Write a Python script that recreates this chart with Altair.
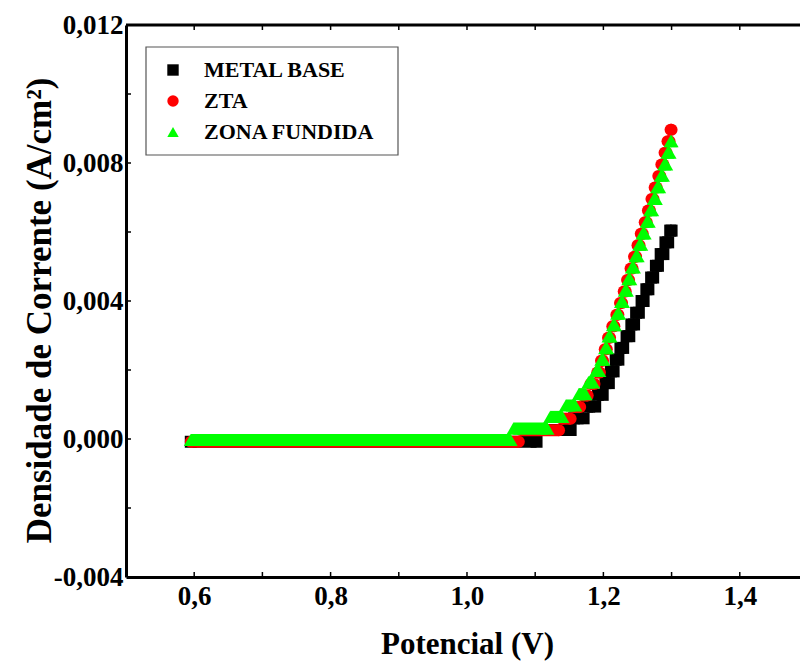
import altair as alt
import pandas as pd

# ---------------- data ----------------
# Current is recorded in discrete levels; each level is a run of samples
# between a start potential and an end potential (V), current in A/cm2.
series = ["METAL BASE", "ZTA", "ZONA FUNDIDA"]
colors = ["#000000", "#ff0000", "#00ff00"]
shapes = ["square", "circle", "triangle-up"]

mb_e_ini = [0.595, 1.106, 1.157, 1.176, 1.192, 1.203, 1.211, 1.218, 1.225, 1.234,
            1.241, 1.248, 1.256, 1.263, 1.270, 1.277, 1.284, 1.291, 1.298]
mb_e_fim = [1.102, 1.152, 1.171, 1.188, 1.199, 1.208, 1.215, 1.222, 1.229, 1.238,
            1.245, 1.252, 1.259, 1.266, 1.273, 1.280, 1.288, 1.295, 1.300]
mb_j = [-0.00008, 0.00026, 0.00060, 0.00094, 0.00128, 0.00162, 0.00196, 0.00230,
        0.00264, 0.00298, 0.00332, 0.00366, 0.00400, 0.00434, 0.00468, 0.00502,
        0.00536, 0.00570, 0.00604]

zta_e_ini = [0.595, 1.080, 1.139, 1.156, 1.170, 1.181, 1.191, 1.1965, 1.202, 1.2068,
             1.2131, 1.219, 1.2244, 1.2298, 1.2347, 1.2398, 1.245, 1.250, 1.2548,
             1.2606, 1.2653, 1.2705, 1.2752, 1.2805, 1.285, 1.2897, 1.294, 1.2985]
zta_e_fim = [1.076, 1.135, 1.152, 1.166, 1.177, 1.187, 1.195, 1.1995, 1.205, 1.2098,
             1.2161, 1.222, 1.2274, 1.2328, 1.2377, 1.2428, 1.248, 1.253, 1.2578,
             1.2636, 1.2683, 1.2735, 1.2782, 1.2835, 1.288, 1.2927, 1.297, 1.300]
zta_j = [-0.00008, 0.000255, 0.00059, 0.000925, 0.00126, 0.001595, 0.00193, 0.002265,
         0.00260, 0.002935, 0.00327, 0.003605, 0.00394, 0.004275, 0.00461, 0.004945,
         0.00528, 0.005615, 0.00595, 0.006285, 0.00662, 0.006955, 0.00729, 0.007625,
         0.00796, 0.008295, 0.00863, 0.008965]

zf_e_ini = [0.595, 1.068, 1.122, 1.145, 1.164, 1.178, 1.189, 1.197, 1.2025, 1.2075,
            1.214, 1.2201, 1.2258, 1.2314, 1.2365, 1.2418, 1.2473, 1.2525, 1.2575,
            1.2635, 1.2685, 1.2739, 1.2788, 1.2843, 1.2891, 1.294, 1.2985]
zf_e_fim = [1.064, 1.118, 1.140, 1.159, 1.174, 1.185, 1.194, 1.200, 1.2055, 1.2105,
            1.217, 1.2231, 1.2288, 1.2344, 1.2395, 1.2448, 1.2503, 1.2555, 1.2605,
            1.2665, 1.2715, 1.2769, 1.2818, 1.2873, 1.2921, 1.297, 1.300]
zf_j = [-0.00003, 0.00030, 0.00064, 0.00097, 0.00130, 0.00164, 0.00197, 0.00230,
        0.00263, 0.00297, 0.00330, 0.00363, 0.00397, 0.00430, 0.00463, 0.00497,
        0.00530, 0.00563, 0.00596, 0.00630, 0.00663, 0.00696, 0.00730, 0.00763,
        0.00796, 0.00830, 0.00863]

x_labels = [0.6, 0.8, 1.0, 1.2, 1.4]
x_ticks = [0.6, 0.7, 0.8, 0.9, 1.0, 1.1, 1.2, 1.3, 1.4]
y_labels = [-0.004, 0.0, 0.004, 0.008, 0.012]
y_ticks = [-0.002, 0.0, 0.002, 0.004, 0.006, 0.008, 0.010]

# ---------------- layout ----------------
W, H = 674, 552
FONT = "Liberation Serif"

x_scale = alt.Scale(domain=[0.5, 1.4883], nice=False, zero=False)
y_scale = alt.Scale(domain=[-0.004, 0.012], nice=False, zero=False)

x_axis = alt.Axis(values=x_labels, format=".1f",
                  labelExpr="replace(datum.label, '.', ',')",
                  title="Potencial (V)", ticks=False, grid=False,
                  domainWidth=3, domainColor="black",
                  labelFont=FONT, labelFontWeight="bold", labelFontSize=27,
                  labelColor="black", labelPadding=6, labelFlush=False,
                  titleFont=FONT, titleFontWeight="bold", titleFontSize=31,
                  titleColor="black", titleX=341, titleY=76,
                  titleAlign="center", titleBaseline="alphabetic")
y_axis = alt.Axis(values=y_labels, format=".3f",
                  labelExpr="replace(replace(datum.label, '.', ','), '\u2212', '-')",
                  title="Densidade de Corrente (A/cm\u00b2)", ticks=False, grid=False,
                  domainWidth=3, domainColor="black",
                  labelFont=FONT, labelFontWeight="bold", labelFontSize=27,
                  labelColor="black", labelPadding=3, labelFlush=False,
                  titleFont=FONT, titleFontWeight="bold", titleFontSize=35,
                  titleColor="black", titleAngle=270, titleX=-76, titleY=285,
                  titleAlign="center", titleBaseline="alphabetic")


def X(field):
    return alt.X(field, type="quantitative", scale=x_scale, axis=x_axis)


def Y(field):
    return alt.Y(field, type="quantitative", scale=y_scale, axis=y_axis)


legend = alt.Legend(title=None, orient="none", legendX=20, legendY=22,
                    padding=12, rowPadding=9, symbolSize=130,
                    symbolOffset=4, labelOffset=20, labelLimit=400,
                    labelFont=FONT, labelFontWeight="bold", labelFontSize=22,
                    labelColor="black", strokeColor="transparent",
                    fillColor="transparent",
                    cornerRadius=0, symbolStrokeWidth=0, symbolOpacity=1)

color_enc = alt.Color("serie:N", scale=alt.Scale(domain=series, range=colors), legend=legend)
shape_enc = alt.Shape("serie:N", scale=alt.Scale(domain=series, range=shapes), legend=legend)

spec = {
    "METAL BASE": (mb_e_ini, mb_e_fim, mb_j, 144, 12),
    "ZTA": (zta_e_ini, zta_e_fim, zta_j, 144, 12),
    "ZONA FUNDIDA": (zf_e_ini, zf_e_fim, zf_j, 196, 12.1),
}

# legend frame (drawn beneath the data)
legend_box = alt.Chart(pd.DataFrame({"a": [0]})).mark_rect(
    fill="white", stroke="#555555", strokeWidth=1.2).encode(
    x=alt.value(20), x2=alt.value(272), y=alt.value(22), y2=alt.value(130))

layers = [legend_box]
for nome, cor in zip(series, colors):
    e_ini, e_fim, j, size, thick = spec[nome]
    runs = pd.DataFrame({"serie": nome, "e_ini": e_ini, "e_fim": e_fim, "j": j})
    pts = pd.concat([
        pd.DataFrame({"serie": nome, "E": e_ini, "j": j}),
        pd.DataFrame({"serie": nome, "E": e_fim, "j": j}),
    ], ignore_index=True)
    layers.append(
        alt.Chart(runs).mark_rule(color=cor, strokeWidth=thick, strokeCap="butt")
        .encode(x=X("e_ini"), x2="e_fim:Q", y=Y("j"))
    )
    layers.append(
        alt.Chart(pts).mark_point(filled=True, opacity=1, size=size, strokeWidth=0)
        .encode(x=X("E"), y=Y("j"), color=color_enc, shape=shape_enc)
    )

xt = pd.DataFrame({"v": x_ticks})
yt = pd.DataFrame({"v": y_ticks})
tick_bottom = alt.Chart(xt).mark_rule(color="black", strokeWidth=1.5).encode(
    x=X("v"), y=alt.value(H), y2=alt.value(H - 5))
tick_top = alt.Chart(xt).mark_rule(color="black", strokeWidth=1.5).encode(
    x=X("v"), y=alt.value(0), y2=alt.value(5))
tick_left = alt.Chart(yt).mark_rule(color="black", strokeWidth=1.5).encode(
    y=Y("v"), x=alt.value(0), x2=alt.value(5))
top_line = alt.Chart(pd.DataFrame({"a": [0]})).mark_rule(color="black", strokeWidth=3).encode(
    x=alt.value(0), x2=alt.value(W), y=alt.value(0))

chart = alt.layer(*layers, tick_bottom, tick_top, tick_left, top_line).properties(
    width=W, height=H,
    padding={"left": 126, "top": 25, "right": 0, "bottom": 85},
    autosize=alt.AutoSizeParams(type="none"),
    background="white",
).configure_view(stroke="transparent")

chart.save("out.html", embed_options={"renderer": "svg", "actions": False})
